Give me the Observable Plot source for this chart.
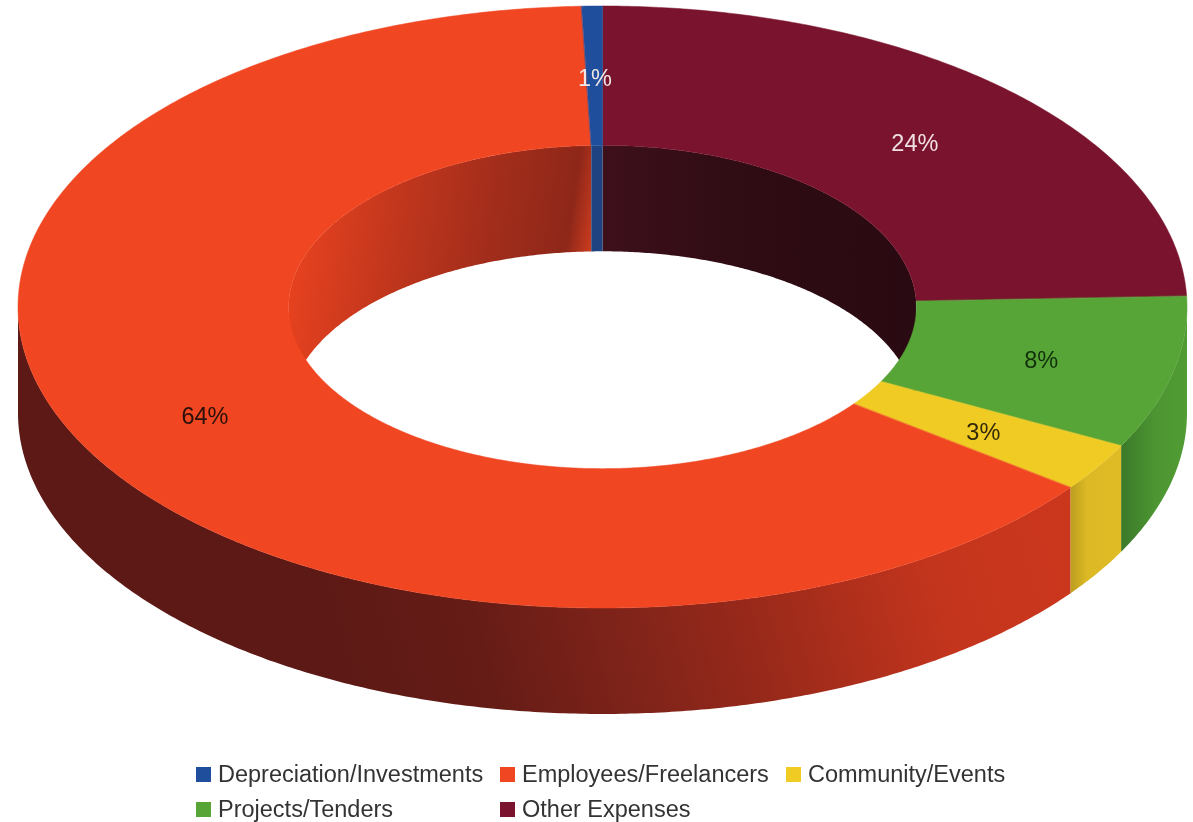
<!DOCTYPE html>
<html>
<head>
<meta charset="utf-8">
<script src="https://cdn.jsdelivr.net/npm/d3@7"></script>
<script src="https://cdn.jsdelivr.net/npm/@observablehq/plot@0.6"></script>
<style>
  html, body { margin: 0; padding: 0; background: #fff; overflow: hidden; }
  #chart svg { display: block; filter: blur(0.6px); }
  #legend {
    position: absolute; left: 196px; top: 757.5px; filter: blur(0.5px);
    display: grid; grid-template-columns: 304px 286px auto; grid-auto-rows: 34.5px;
    font: 23.5px "Liberation Sans", sans-serif; color: #333; align-items: center;
  }
  #legend .item { display: flex; align-items: center; white-space: nowrap; }
  #legend .sw { width: 15px; height: 15px; margin-right: 7px; flex: none; }
</style>
</head>
<body>
<div id="chart"></div>
<div id="legend"></div>
<script>
// Chart data, in legend order (percent of total)
const categories = ["Depreciation/Investments", "Employees/Freelancers", "Community/Events", "Projects/Tenders", "Other Expenses"];
const values = [0.57, 64.2, 2.6, 8.2, 24.43];
const colors = ["#1f4e9c", "#f14622", "#efcb24", "#56a536", "#7a132d"];
const labelColors = ["#f0e6e6", "#2a1008", "#33290a", "#12300c", "#f0e0e4"];

// Ring proportions
const hole = 0.537;       // inner radius relative to outer
const depth = 0.352;      // extrusion, in y units of the ring

// Slices run clockwise from 12 o'clock in reverse legend order
const slices = [];
let acc = 0;
for (let i = categories.length - 1; i >= 0; i--) {
  const start = acc * 3.6; acc += values[i];
  slices.push({i, name: categories[i], start, end: acc * 3.6, color: colors[i], label: Math.round(values[i]) + "%", labelColor: labelColors[i]});
}
const rad = d => d * Math.PI / 180;
const arcAngles = (a, b) => {
  const n = Math.max(2, Math.ceil((b - a) / 0.5));
  return d3.range(n + 1).map(k => a + (b - a) * k / n);
};
const px = (r, a) => r * Math.sin(rad(a));
const py = (r, a) => r * Math.cos(rad(a));

// Top face: ring sector between outer and inner arc
const topFace = s => arcAngles(s.start, s.end).map(a => ({
  x1: px(1, a), y1: py(1, a), x2: px(hole, a), y2: py(hole, a)
}));
// Walls: vertical strip below an arc of radius r
const wall = (r, a, b) => arcAngles(a, b).map(t => ({
  x1: px(r, t), y1: py(r, t), x2: px(r, t), y2: py(r, t) - depth
}));

const outerFill = {
  "Employees/Freelancers": "url(#wo-emp)",
  "Community/Events": "url(#wo-com)",
  "Projects/Tenders": "url(#wo-pro)"
};
const innerFill = {
  "Employees/Freelancers": "url(#wi-emp)",
  "Depreciation/Investments": "#1f4380",
  "Other Expenses": "url(#wi-oth)",
  "Projects/Tenders": "#2a0a12"
};

const wallMarks = [];
for (const s of slices) {
  // outer wall seen in the front half
  const a = Math.max(s.start, 90), b = Math.min(s.end, 270);
  if (b > a) wallMarks.push(Plot.area(wall(1, a, b), {x1: "x1", y1: "y1", x2: "x2", y2: "y2", fill: outerFill[s.name]}));
}
for (const s of slices) {
  // inner wall seen in the back half
  for (const [lo, hi] of [[0, 90], [270, 360]]) {
    const a = Math.max(s.start, lo), b = Math.min(s.end, hi);
    if (b > a) wallMarks.push(Plot.area(wall(hole, a, b), {x1: "x1", y1: "y1", x2: "x2", y2: "y2", fill: innerFill[s.name]}));
  }
}
const topMarks = slices.map(s => Plot.area(topFace(s), {
  x1: "x1", y1: "y1", x2: "x2", y2: "y2", fill: s.color, stroke: s.color, strokeWidth: 0.5
}));

const labelR = (1 + hole) / 2;
const labels = slices.map(s => {
  const m = (s.start + s.end) / 2;
  return {x: px(labelR, m), y: py(labelR, m), label: s.label, color: s.labelColor};
});

const chart = Plot.plot({
  width: 1193, height: 750,
  margin: 0,
  x: {domain: [-1, 1], range: [18, 1187], axis: null},
  y: {domain: [-1, 1], range: [608, 6], axis: null},
  marks: [
    ...wallMarks,
    ...topMarks,
    Plot.text(labels, {x: "x", y: "y", dy: 2, text: "label", fill: "color", fontSize: 23.5, fontFamily: "Liberation Sans"})
  ]
});

// Shading of the side walls
const stops = (id, x1, y1, x2, y2, list) =>
  `<linearGradient id="${id}" gradientUnits="userSpaceOnUse" x1="${x1}" y1="${y1}" x2="${x2}" y2="${y2}">` +
  list.map(([o, c]) => `<stop offset="${o}" stop-color="${c}"/>`).join("") + `</linearGradient>`;
const defs = document.createElementNS("http://www.w3.org/2000/svg", "defs");
defs.innerHTML =
  stops("wo-emp", 1072, 500, 340, 700, [[0, "#cb371d"], [0.2, "#c4351d"], [0.45, "#98291a"], [0.6, "#82241a"], [0.8, "#661c16"], [1, "#5c1915"]]) +
  stops("wo-com", 1072, 0, 1122, 0, [[0, "#bfa01f"], [0.3, "#dcb925"], [1, "#e0bc26"]]) +
  stops("wo-pro", 1122, 0, 1187, 0, [[0, "#3b7a2a"], [0.5, "#4c9532"], [1, "#529c34"]]) +
  stops("wi-emp", 300, 190, 592, 235, [[0, "#e8421f"], [0.35, "#c0361d"], [0.65, "#a32d1b"], [0.92, "#8e2719"], [1, "#c83b1e"]]) +
  stops("wi-oth", 603, 0, 917, 0, [[0, "#3e101b"], [0.4, "#300c14"], [1, "#2a0a12"]]);
chart.insertBefore(defs, chart.firstChild);
document.getElementById("chart").appendChild(chart);

// Legend under the SVG
const legend = d3.select("#legend");
categories.forEach((name, i) => {
  const item = legend.append("div").attr("class", "item");
  item.append("span").attr("class", "sw").style("background", colors[i]);
  item.append("span").text(name);
});
</script>
</body>
</html>
